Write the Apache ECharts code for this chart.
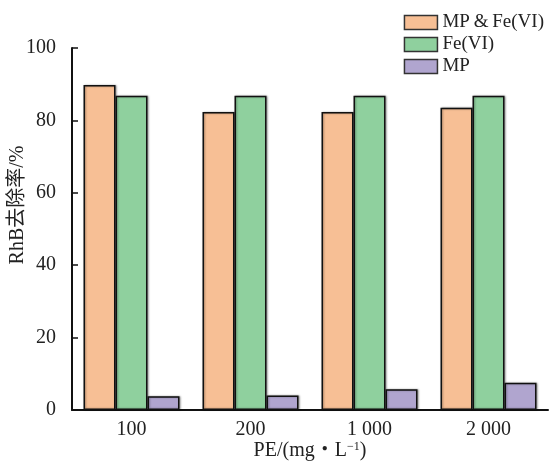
<!DOCTYPE html>
<html><head><meta charset="utf-8">
<script src="https://cdn.jsdelivr.net/npm/echarts@6/dist/echarts.min.js"></script>
<style>html,body{margin:0;padding:0;background:#fff}#c{width:552px;height:461px}</style>
</head><body><div id="c"></div>
<script>
const categories = ['100', '200', '1 000', '2 000'];
const seriesNames = ['MP\u2009&\u2009Fe(VI)', 'Fe(VI)', 'MP'];
const mpFe = [89.8, 82.3, 82.3, 83.5];
const fe = [86.8, 86.8, 86.8, 86.8];
const mp = [3.8, 4.0, 5.7, 7.5];
const yTicks = [0, 20, 40, 60, 80, 100];

const colors = ['#F7BF95', '#8FD09E', '#B0A5CF'];
const font = '"Liberation Serif", "Times New Roman", "Noto Sans CJK SC", serif';
const chart = echarts.init(document.getElementById('c'));
const mk = (name, data, i) => ({
  name, type: 'bar', data, barWidth: 32, barGap: '0%',
  itemStyle: { color: colors[i], borderColor: '#111', borderWidth: 1.5,
    shadowColor: 'rgba(0,0,0,0.35)', shadowBlur: 2, shadowOffsetX: 1, shadowOffsetY: 0 }
});
chart.setOption({
  animation: false,
  grid: { left: 72, right: 4, top: 48, bottom: 51, containLabel: false, outerBoundsMode: 'none' },
  legend: {
    right: 3, top: 8, orient: 'vertical', itemWidth: 33, itemHeight: 14, itemGap: 3, padding: 5,
    textStyle: { fontFamily: font, fontSize: 19, color: '#222' },
    data: seriesNames.map(n => ({ name: n, icon: 'rect', itemStyle: { borderColor: '#333', borderWidth: 1.5 } }))
  },
  xAxis: {
    type: 'category', data: categories,
    axisLine: { lineStyle: { color: '#111', width: 2 } },
    axisTick: { inside: true, alignWithLabel: true, length: 6, lineStyle: { color: '#111', width: 1.5 } },
    axisLabel: { fontFamily: font, fontSize: 20, color: '#222', margin: 10 },
    name: 'PE/(mg・L{s|\u22121})', nameLocation: 'middle', nameGap: 31, nameMoveOverlap: false,
    nameTextStyle: { fontFamily: font, fontSize: 20, color: '#222',
      rich: { s: { fontFamily: font, fontSize: 12, verticalAlign: 'top', padding: [0, 0, 8, 0], color: '#222' } } }
  },
  yAxis: {
    type: 'value', min: 0, max: 100, interval: 20,
    axisLine: { show: true, lineStyle: { color: '#111', width: 2 } },
    axisTick: { show: true, inside: true, length: 6, lineStyle: { color: '#111', width: 1.5 } },
    splitLine: { show: false },
    axisLabel: { fontFamily: font, fontSize: 20, color: '#222', margin: 16,
      formatter: v => yTicks.includes(v) ? String(v) : '' },
    name: 'RhB去除率/%', nameLocation: 'middle', nameGap: 44, nameRotate: 90, nameMoveOverlap: false,
    nameTextStyle: { fontFamily: font, fontSize: 20, color: '#222', padding: [0, 0, 0, 48] }
  },
  series: [mk(seriesNames[0], mpFe, 0), mk(seriesNames[1], fe, 1), mk(seriesNames[2], mp, 2)]
});
</script></body></html>
